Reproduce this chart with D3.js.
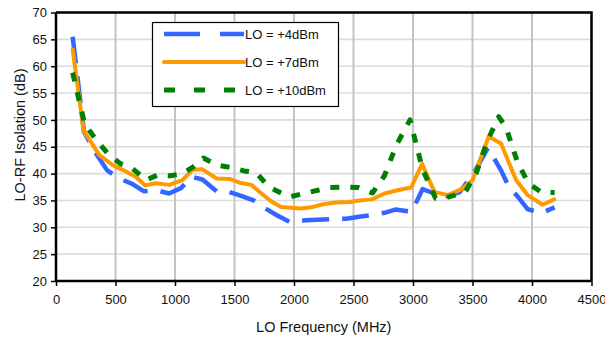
<!DOCTYPE html>
<html lang="en">
<head>
<meta charset="UTF-8">
<title>LO-RF Isolation</title>
<script src="https://d3js.org/d3.v7.min.js"></script>
<style>
  body { margin: 0; background: #fff; }
  svg { display: block; font-family: "Liberation Sans", Arial, sans-serif; }
</style>
</head>
<body>
<div id="chart"></div>
<script>
// values, frequency in MHz and isolation in dB
const freq4 = [140, 235, 340, 430, 540, 640, 740, 845, 950, 1050, 1140, 1230, 1350, 1450, 1550, 1660, 1760, 1860, 1965, 2100, 2300, 2440, 2560, 2660, 2760, 2850, 2990, 3080, 3180, 3280, 3390, 3500, 3630, 3740, 3800, 3880, 3963, 4075, 4190];
const iso4 = [65.5, 47.8, 43.6, 40.6, 39.0, 38.1, 36.7, 36.9, 36.3, 37.3, 39.4, 38.9, 36.7, 36.6, 35.9, 35.0, 33.5, 32.2, 31.0, 31.3, 31.5, 31.6, 32.0, 32.3, 32.7, 33.3, 32.9, 37.1, 36.3, 35.8, 36.5, 39.7, 44.8, 40.6, 37.8, 35.7, 33.4, 32.6, 33.7];

const freq7 = [140, 232, 363, 475, 559, 671, 749, 839, 951, 1063, 1147, 1231, 1348, 1460, 1544, 1642, 1726, 1810, 1893, 2061, 2159, 2243, 2355, 2467, 2551, 2655, 2760, 2870, 2984, 3077, 3180, 3292, 3400, 3501, 3636, 3740, 3866, 3963, 4089, 4187];
const iso7 = [63.1, 48.0, 43.5, 41.6, 40.7, 39.4, 37.8, 38.2, 37.9, 38.8, 40.7, 40.8, 39.1, 39.0, 38.3, 37.9, 36.3, 34.8, 33.8, 33.5, 33.8, 34.3, 34.6, 34.7, 35.0, 35.2, 36.3, 36.9, 37.4, 41.8, 36.6, 36.0, 37.0, 38.8, 46.9, 45.6, 38.8, 36.0, 34.2, 35.2];

const freq10 = [140, 240, 340, 445, 545, 640, 760, 850, 960, 1060, 1150, 1240, 1350, 1480, 1580, 1680, 1790, 1900, 1970, 2100, 2200, 2300, 2440, 2540, 2660, 2760, 2860, 2975, 3080, 3190, 3260, 3350, 3440, 3530, 3620, 3720, 3780, 3880, 3970, 4080, 4190];
const iso10 = [58.8, 49.3, 46.2, 43.5, 41.8, 41.0, 38.8, 39.7, 39.6, 40.0, 41.2, 42.9, 41.6, 41.1, 40.5, 40.2, 37.5, 36.3, 35.7, 36.4, 36.9, 37.4, 37.5, 37.4, 36.4, 39.6, 45.3, 50.0, 40.8, 35.4, 35.4, 36.0, 36.6, 40.0, 45.8, 50.6, 48.7, 42.0, 38.2, 36.5, 36.5];

const seriesNames = ["LO = +4dBm", "LO = +7dBm", "LO = +10dBm"];
const xTicks = [0, 500, 1000, 1500, 2000, 2500, 3000, 3500, 4000, 4500];
const yTicks = [20, 25, 30, 35, 40, 45, 50, 55, 60, 65, 70];

const w = 605, h = 341;
const plotL = 56, plotR = 591.5, plotT = 12.5, plotB = 281;

const svg = d3.select("#chart").append("svg")
  .attr("width", w).attr("height", h);

const x = d3.scaleLinear().domain([0, 4500]).range([plotL, plotR]);
const y = d3.scaleLinear().domain([20, 70]).range([plotB, plotT]);

// grid
svg.append("g").selectAll("line")
  .data(yTicks.slice(1))
  .join("line")
  .attr("x1", plotL).attr("x2", plotR)
  .attr("y1", d => y(d)).attr("y2", d => y(d))
  .attr("stroke", "#dcdcdc").attr("stroke-width", 1.6);

svg.append("g").selectAll("line")
  .data(xTicks.slice(1))
  .join("line")
  .attr("x1", d => x(d)).attr("x2", d => x(d))
  .attr("y1", plotT).attr("y2", plotB)
  .attr("stroke", "#c4c4c4").attr("stroke-width", 2);

// frame top/right
svg.append("path")
  .attr("d", `M${plotL},${plotT}H${plotR}V${plotB}`)
  .attr("fill", "none").attr("stroke", "#000").attr("stroke-width", 2.5);

// lines
const line = d3.line().x(d => x(d[0])).y(d => y(d[1]));
const pairs = (f, v) => f.map((d, i) => [d, v[i]]);

const series = [
  { name: seriesNames[0], pts: pairs(freq4, iso4), color: "#3366ff", width: 4.5, dash: "27,13", legDash: "36,20", cap: "butt" },
  { name: seriesNames[1], pts: pairs(freq7, iso7), color: "#ff9900", width: 4, dash: null, legDash: null, cap: "round" },
  { name: seriesNames[2], pts: pairs(freq10, iso10), color: "#008000", width: 5, dash: "9,11", legDash: "11,19", cap: "butt" }
];

series.forEach(s => {
  svg.append("path")
    .datum(s.pts)
    .attr("d", line)
    .attr("fill", "none")
    .attr("stroke", s.color)
    .attr("stroke-width", s.width)
    .attr("stroke-linejoin", "round")
    .attr("stroke-linecap", s.cap)
    .attr("stroke-dasharray", s.dash);
});

// axes
const xAxis = d3.axisBottom(x).tickValues(xTicks).tickSize(5).tickPadding(9).tickFormat(d => d);
const gx = svg.append("g").attr("transform", `translate(0,${plotB})`).call(xAxis);
const yAxis = d3.axisLeft(y).tickValues(yTicks).tickSize(5).tickPadding(4);
const gy = svg.append("g").attr("transform", `translate(${plotL},0)`).call(yAxis);

[gx, gy].forEach(g => {
  g.select(".domain").attr("stroke", "#000").attr("stroke-width", 2.5);
  g.selectAll(".tick line").attr("stroke", "#000").attr("stroke-width", 1.5);
  g.selectAll("text").attr("fill", "#111").style("font-size", "13px")
    .style("font-family", "'Liberation Sans', Arial, sans-serif");
});
gx.select(".domain").attr("d", `M${plotL},0H${plotR}`);
gy.select(".domain").attr("d", `M0,${plotT}V${plotB}`);

svg.append("text")
  .attr("x", (plotL + plotR) / 2).attr("y", 332)
  .attr("text-anchor", "middle")
  .style("font-size", "14.5px").attr("fill", "#111")
  .text("LO Frequency (MHz)");

svg.append("text")
  .attr("transform", "translate(25,135) rotate(-90)")
  .attr("text-anchor", "middle")
  .style("font-size", "14.5px").attr("fill", "#111")
  .text("LO-RF Isolation (dB)");

// legend
const legend = svg.append("g").attr("id", "legend");
legend.append("rect")
  .attr("x", 152.5).attr("y", 22.5).attr("width", 186).attr("height", 84)
  .attr("fill", "#fff").attr("stroke", "#000").attr("stroke-width", 1.2);

series.forEach((s, i) => {
  const ly = 34 + i * 28;
  legend.append("line")
    .attr("x1", 164).attr("x2", 244).attr("y1", ly).attr("y2", ly)
    .attr("stroke", s.color).attr("stroke-width", s.width)
    .attr("stroke-linecap", s.cap)
    .attr("stroke-dasharray", s.legDash);
  legend.append("text")
    .attr("x", 245).attr("y", ly + 4.5)
    .style("font-size", "13px").attr("fill", "#111")
    .text(s.name);
});
</script>
</body>
</html>
